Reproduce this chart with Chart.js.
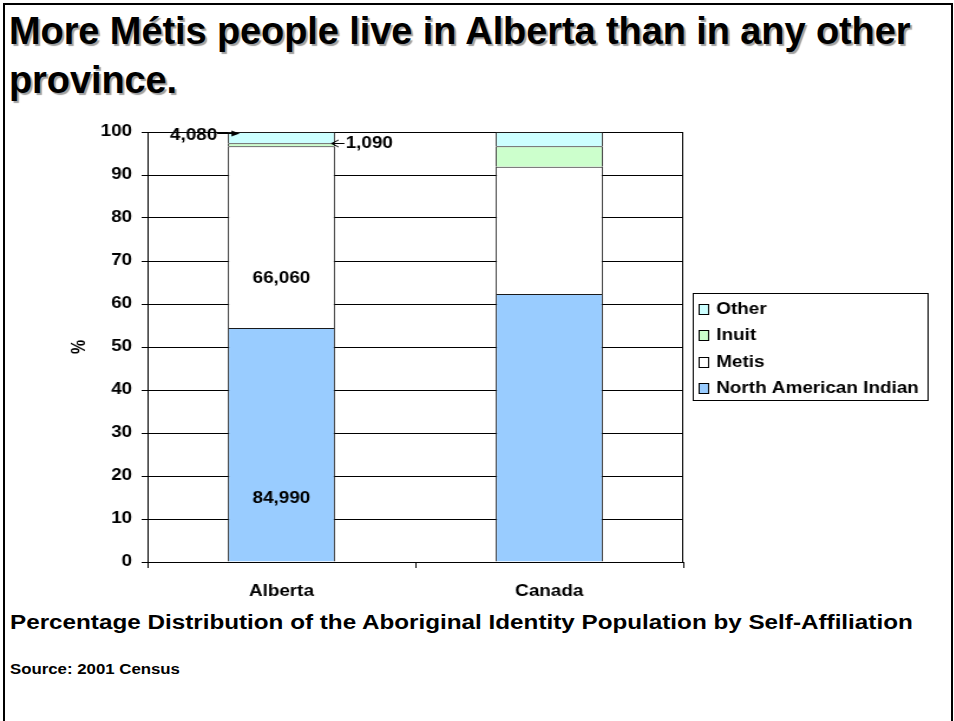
<!DOCTYPE html>
<html>
<head>
<meta charset="utf-8">
<script src="https://cdn.jsdelivr.net/npm/chart.js@4.4.1/dist/chart.umd.min.js"></script>
<style>
  html, body { margin: 0; padding: 0; background: #fff; }
  body {
    width: 954px; height: 721px; position: relative; overflow: hidden;
    font-family: "Liberation Sans", Arial, sans-serif; font-weight: bold; color: #000;
  }
  #frame {
    position: absolute; left: 3px; top: 3px; width: 946px; height: 740px;
    border: 2px solid #000; border-bottom: none;
  }
  #title {
    position: absolute; left: 9px; top: 7px; font-size: 38px; line-height: 49px;
    letter-spacing: -0.1px; text-shadow: 2px 2px 1px #a0a0a0; white-space: nowrap;
  }
  /* the chart is drawn narrow and stretched sideways, like the embedded sheet chart */
  #plot {
    position: absolute; left: 0; top: 110px; width: 789px; height: 500px;
    transform: scaleX(1.18); transform-origin: 0 0;
  }
  .note { position: absolute; left: 10px; white-space: nowrap; transform-origin: 0 0; }
  #caption { top: 611px; font-size: 20px; transform: scaleX(1.212); }
  #source { top: 661px; font-size: 14px; transform: scaleX(1.2); }
</style>
</head>
<body>
<div id="frame"></div>
<div id="title">More Métis people live in Alberta than in any other<br>province.</div>
<div id="plot"><canvas id="chart"></canvas></div>
<div id="caption" class="note">Percentage Distribution of the Aboriginal Identity Population by Self-Affiliation</div>
<div id="source" class="note">Source: 2001 Census</div>

<script>
const categories = ['Alberta', 'Canada'];
const seriesNames = ['North American Indian', 'Metis', 'Inuit', 'Other'];
const seriesColors = ['#99CCFF', '#FFFFFF', '#CCFFCC', '#CCFFFF'];

// Alberta head counts, printed on the Alberta bar
const albertaCounts = [84990, 66060, 1090, 4080];
// Canada shares in percent
const canadaShares = [62.3, 29.6, 4.8, 3.3];

const albertaTotal = albertaCounts.reduce((a, b) => a + b, 0);
const albertaShares = albertaCounts.map(c => c / albertaTotal * 100);

const FONT = '"Liberation Sans", Arial, sans-serif';

// right-hand edge of the plot box
const plotFrame = {
  id: 'plotFrame',
  beforeDatasetsDraw(chart) {
    const { ctx, chartArea: a } = chart;
    const x = Math.round(a.right) - 0.5;
    ctx.save();
    ctx.strokeStyle = '#000';
    ctx.lineWidth = 1;
    ctx.beginPath();
    ctx.moveTo(x, a.top);
    ctx.lineTo(x, a.bottom);
    ctx.stroke();
    ctx.restore();
  },
};

// boxed legend beside the plot, top series first
const sideLegend = {
  id: 'sideLegend',
  afterDraw(chart) {
    const { ctx, chartArea: a } = chart;
    const items = chart.data.datasets
      .map(d => ({ text: d.label, fill: d.backgroundColor, stroke: d.borderColor }))
      .reverse();
    ctx.save();
    ctx.font = 'bold 16px ' + FONT;
    const textW = Math.max(...items.map(it => ctx.measureText(it.text).width));
    const rowH = 26.3;
    const mid = (a.top + a.bottom) / 2;
    const left = Math.round(a.right + 8) + 0.5;
    const top = Math.round(mid - 54) + 0.5;
    const right = Math.round(left + 19.5 + textW + 7) + 0.5;
    const bottom = Math.round(mid + 53) + 0.5;
    ctx.strokeStyle = '#000';
    ctx.lineWidth = 1;
    ctx.strokeRect(left, top, right - left, bottom - top);
    ctx.textAlign = 'left';
    ctx.textBaseline = 'middle';
    items.forEach((it, k) => {
      const yc = mid + (k - 1.5) * rowH + 1.5;
      const bx = Math.round(left + 4) + 0.5;
      const by = Math.round(yc - 5) + 0.5;
      ctx.fillStyle = it.fill;
      ctx.fillRect(bx, by, 8, 10);
      ctx.strokeStyle = '#000';
      ctx.strokeRect(bx, by, 8, 10);
      ctx.fillStyle = '#000';
      ctx.fillText(it.text, left + 19.5, yc + 0.5);
    });
    ctx.restore();
  },
};

// counts on the Alberta bar; the two thin slices get a label outside with an arrow
const countLabels = {
  id: 'countLabels',
  afterDatasetsDraw(chart) {
    const ctx = chart.ctx;
    ctx.save();
    ctx.font = 'bold 16px ' + FONT;
    ctx.fillStyle = '#000';
    ctx.strokeStyle = '#000';
    ctx.lineWidth = 1;
    albertaCounts.forEach((count, i) => {
      const bar = chart.getDatasetMeta(i).data[0];
      const text = count.toLocaleString('en-US');
      const half = bar.width / 2;
      ctx.textBaseline = 'middle';
      if (i < 2) {
        ctx.textAlign = 'center';
        ctx.fillText(text, bar.x, bar.base + (bar.y - bar.base) * 0.27);
      } else if (i === 2) {
        const yc = (bar.y + bar.base) / 2;
        const x0 = bar.x + half;
        ctx.textAlign = 'left';
        ctx.fillText(text, x0 + 9, yc - 1);
        const ay = Math.round(yc - 2) + 0.5;
        ctx.beginPath();
        ctx.moveTo(x0 + 8, ay);
        ctx.lineTo(x0 - 3, ay);
        ctx.moveTo(x0 + 3, ay - 3.5);
        ctx.lineTo(x0 - 3, ay);
        ctx.lineTo(x0 + 3, ay + 3.5);
        ctx.stroke();
      } else {
        const x0 = bar.x - half;
        ctx.textAlign = 'right';
        ctx.fillText(text, x0 - 9, bar.y + 4);
        const ay = Math.round(bar.y + 1) + 0.5;
        const tip = x0 + 10;
        ctx.beginPath();
        ctx.moveTo(x0 - 9, ay);
        ctx.lineTo(tip - 5, ay);
        ctx.stroke();
        ctx.beginPath();
        ctx.moveTo(tip, ay);
        ctx.lineTo(tip - 7, ay - 3);
        ctx.lineTo(tip - 7, ay + 3);
        ctx.closePath();
        ctx.fill();
      }
    });
    ctx.restore();
  },
};

Chart.defaults.font.family = FONT;
Chart.defaults.font.weight = 'bold';
Chart.defaults.font.size = 16;
Chart.defaults.color = '#000';

const boldFont = { family: FONT, size: 16, weight: 'bold' };

new Chart(document.getElementById('chart'), {
  type: 'bar',
  data: {
    labels: categories,
    datasets: seriesNames.map((name, i) => ({
      label: name,
      data: [albertaShares[i], canadaShares[i]],
      backgroundColor: seriesColors[i],
      borderColor: '#1a1a1a',
      borderWidth: 1,
      barPercentage: 0.4,
      categoryPercentage: 1,
    })),
  },
  options: {
    responsive: true,
    maintainAspectRatio: false,
    animation: false,
    devicePixelRatio: 1,
    layout: { padding: { top: 22, left: 0, right: 210, bottom: 0 } },
    scales: {
      x: {
        stacked: true,
        grid: { drawOnChartArea: false, tickLength: 6, color: '#000', offset: true },
        border: { color: '#000', width: 1 },
        ticks: { padding: 14, font: boldFont },
        afterFit: s => { s.height = 48; },
      },
      y: {
        stacked: true,
        min: 0,
        max: 100,
        ticks: { stepSize: 10, padding: 8, font: boldFont },
        grid: { color: '#000', tickLength: 5 },
        border: { color: '#000' },
        title: { display: true, text: '%', font: boldFont, padding: { top: 58, bottom: 0 } },
        afterFit: s => { s.width = 125; },
      },
    },
    plugins: {
      legend: { display: false },
      tooltip: { enabled: false },
    },
  },
  plugins: [plotFrame, sideLegend, countLabels],
});
</script>
</body>
</html>
